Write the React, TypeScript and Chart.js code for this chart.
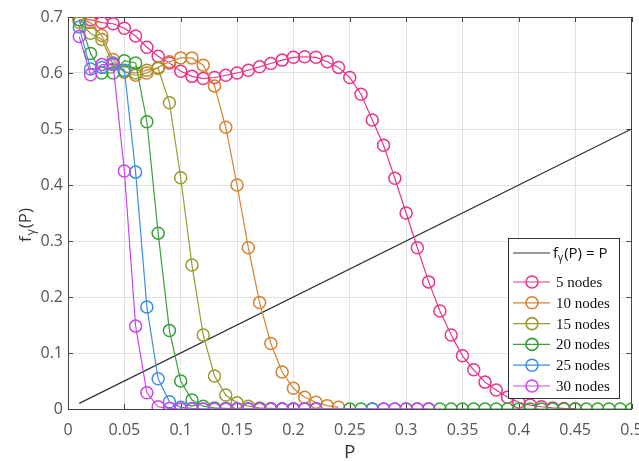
import { useEffect, useRef } from "react";
import { Chart, registerables } from "chart.js";

Chart.register(...registerables);

// ---- data ----
const P = [
  0.01, 0.02, 0.03, 0.04, 0.05, 0.06, 0.07, 0.08, 0.09, 0.1,
  0.11, 0.12, 0.13, 0.14, 0.15, 0.16, 0.17, 0.18, 0.19, 0.2,
  0.21, 0.22, 0.23, 0.24, 0.25, 0.26, 0.27, 0.28, 0.29, 0.3,
  0.31, 0.32, 0.33, 0.34, 0.35, 0.36, 0.37, 0.38, 0.39, 0.4,
  0.41, 0.42, 0.43, 0.44, 0.45, 0.46, 0.47, 0.48, 0.49, 0.5,
];

const identityP = [0.01, 0.5];
const identityF = [0.01, 0.5];

const nodes5 = [
  0.695, 0.695, 0.69, 0.688, 0.68, 0.666, 0.646, 0.63, 0.618, 0.603,
  0.594, 0.59, 0.592, 0.596, 0.6, 0.605, 0.611, 0.617, 0.623, 0.628,
  0.629, 0.628, 0.62, 0.61, 0.592, 0.562, 0.516, 0.471, 0.412, 0.35,
  0.288, 0.227, 0.175, 0.132, 0.095, 0.07, 0.048, 0.034, 0.021, 0.012,
  0.007, 0.004, 0.002, 0.001, 0.0005,
];
const nodes10 = [
  0.695, 0.69, 0.667, 0.624, 0.602, 0.596, 0.6, 0.61, 0.62, 0.627,
  0.627, 0.614, 0.577, 0.503, 0.4, 0.288, 0.19, 0.117, 0.066, 0.037,
  0.021, 0.012, 0.006, 0.003,
];
const nodes15 = [
  0.69, 0.671, 0.66, 0.615, 0.602, 0.6, 0.605, 0.608, 0.547, 0.413,
  0.257, 0.132, 0.059, 0.025, 0.011, 0.005, 0.002, 0.001, 0, 0,
];
const nodes20 = [
  0.695, 0.635, 0.6, 0.6, 0.622, 0.618, 0.513, 0.314, 0.14, 0.05,
  0.016, 0.005, 0.002, 0.001, 0, 0, 0, 0, 0, 0,
  0, 0, null, null, 0, 0, 0, 0, 0, 0,
  0, 0, 0, 0, 0, 0, 0, 0, 0, 0,
  0, 0, 0, 0, 0, 0, 0, 0, 0, 0,
];
const nodes25 = [
  0.682, 0.607, 0.61, 0.618, 0.605, 0.423, 0.182, 0.054, 0.013, 0.003,
  0.001, 0, 0, 0, 0, 0, 0, 0, 0, 0,
  0, 0, null, null, null, null, 0,
];
const nodes30 = [
  0.665, 0.597, 0.615, 0.615, 0.425, 0.148, 0.029, 0.004, 0.001, 0,
  0, 0, 0, 0, 0, 0, 0, 0, 0, 0,
  0, 0, null, null, null, null, null, 0, 0, 0,
  0, 0,
];

const seriesLabels = ["5 nodes", "10 nodes", "15 nodes", "20 nodes", "25 nodes", "30 nodes"];
const seriesValues = [nodes5, nodes10, nodes15, nodes20, nodes25, nodes30];
const seriesColors = ["#E8358C", "#D4832F", "#9C9A2E", "#38A238", "#3D8FE0", "#CC44EE"];

const xMin = 0, xMax = 0.5, xStep = 0.05;
const yMin = 0, yMax = 0.7, yStep = 0.1;

const SANS = "'Open Sans', 'Noto Sans', sans-serif";
const SERIF = "'Liberation Serif', 'DejaVu Serif', serif";

function fmt(v: number) {
  return parseFloat(v.toFixed(2)).toString();
}

const framePlugin = {
  id: "frame",
  beforeDatasetsDraw(chart: any) {
    const { ctx, chartArea: a, scales } = chart;
    ctx.save();
    ctx.strokeStyle = "#444";
    ctx.lineWidth = 1;
    ctx.beginPath();
    const tl = 5;
    scales.x.ticks.forEach((t: any) => {
      const px = Math.round(scales.x.getPixelForValue(t.value)) + 0.5;
      ctx.moveTo(px, a.bottom);
      ctx.lineTo(px, a.bottom - tl);
      ctx.moveTo(px, a.top);
      ctx.lineTo(px, a.top + tl);
    });
    scales.y.ticks.forEach((t: any) => {
      const py = Math.round(scales.y.getPixelForValue(t.value)) + 0.5;
      ctx.moveTo(a.left, py);
      ctx.lineTo(a.left + tl, py);
      ctx.moveTo(a.right, py);
      ctx.lineTo(a.right - tl, py);
    });
    ctx.stroke();
    ctx.strokeRect(Math.round(a.left) + 0.5, Math.round(a.top) + 0.5, Math.round(a.right - a.left) - 1, Math.round(a.bottom - a.top));
    ctx.restore();
  },
  afterDraw(chart: any) {
    const { ctx, chartArea: a } = chart;
    ctx.save();
    // x-axis title
    ctx.fillStyle = "#333";
    ctx.font = `19px ${SANS}`;
    ctx.textAlign = "center";
    ctx.textBaseline = "alphabetic";
    ctx.fillText("P", (a.left + a.right) / 2, 458);

    // y-axis title with subscript
    ctx.translate(31, 225);
    ctx.rotate(-Math.PI / 2);
    ctx.textAlign = "left";
    ctx.font = `17px ${SANS}`;
    const wf = ctx.measureText("f").width;
    const wp = ctx.measureText("(P)").width;
    ctx.font = `12px ${SANS}`;
    const wg = ctx.measureText("γ").width;
    let x = -(wf + wg + wp + 2) / 2;
    ctx.font = `17px ${SANS}`;
    ctx.fillText("f", x, 0);
    x += wf + 1;
    ctx.font = `12px ${SANS}`;
    ctx.fillText("γ", x, 4);
    x += wg + 1;
    ctx.font = `17px ${SANS}`;
    ctx.fillText("(P)", x, 0);
    ctx.restore();

    // legend
    ctx.save();
    const bx = 508, by = 238, bw = 111, bh = 160;
    ctx.fillStyle = "#fff";
    ctx.fillRect(bx, by, bw, bh);
    ctx.strokeStyle = "#333";
    ctx.lineWidth = 1;
    ctx.strokeRect(bx + 0.5, by + 0.5, bw, bh);
    const lx0 = 513, lx1 = 550, mx = 532;
    // identity entry
    let ry = 253;
    ctx.strokeStyle = "#333";
    ctx.lineWidth = 1.2;
    ctx.beginPath();
    ctx.moveTo(lx0, ry);
    ctx.lineTo(lx1, ry);
    ctx.stroke();
    ctx.fillStyle = "#111";
    ctx.textBaseline = "alphabetic";
    ctx.textAlign = "left";
    let tx = 553;
    ctx.font = `15px ${SANS}`;
    ctx.fillText("f", tx, ry + 5);
    tx += ctx.measureText("f").width;
    ctx.font = `10px ${SANS}`;
    ctx.fillText("γ", tx, ry + 8);
    tx += ctx.measureText("γ").width + 1;
    ctx.font = `15px ${SANS}`;
    ctx.fillText("(P) = P", tx, ry + 5);

    seriesLabels.forEach((lab, i) => {
      const yy = 282 + i * 20.8;
      ctx.strokeStyle = seriesColors[i];
      ctx.lineWidth = 1.2;
      ctx.beginPath();
      ctx.moveTo(lx0, yy);
      ctx.lineTo(lx1, yy);
      ctx.stroke();
      ctx.lineWidth = 1.6;
      ctx.beginPath();
      ctx.arc(mx, yy, 6, 0, Math.PI * 2);
      ctx.stroke();
      ctx.fillStyle = "#111";
      ctx.font = `15px ${SERIF}`;
      ctx.textBaseline = "middle";
      ctx.fillText(lab, 556, yy + 1);
    });
    ctx.restore();
  },
};

export default function App() {
  const ref = useRef<HTMLCanvasElement>(null);
  useEffect(() => {
    const datasets: any[] = [
      {
        label: "identity",
        data: identityP.map((p, i) => ({ x: p, y: identityF[i] })),
        borderColor: "#333",
        borderWidth: 1.2,
        pointRadius: 0,
        order: 10,
      },
    ];
    seriesValues.forEach((vals, s) => {
      datasets.push({
        label: seriesLabels[s],
        data: P.slice(0, vals.length).map((p, i) => ({ x: p, y: vals[i] })),
        borderColor: seriesColors[s],
        borderWidth: 1.2,
        pointRadius: 6,
        pointBorderWidth: 1.5,
        pointBackgroundColor: "rgba(0,0,0,0)",
        pointBorderColor: seriesColors[s],
        pointStyle: "circle",
        spanGaps: true,
        order: 6 - s,
      });
    });
    const chart = new Chart(ref.current!, {
      type: "line",
      data: { datasets },
      options: {
        animation: false,
        responsive: false,
        devicePixelRatio: 1,
        layout: { padding: { left: 0, right: 7, top: 17, bottom: 0 } },
        plugins: { legend: { display: false }, tooltip: { enabled: false } },
        scales: {
          x: {
            type: "linear",
            min: xMin,
            max: xMax,
            ticks: {
              stepSize: xStep,
              autoSkip: false,
              maxRotation: 0,
              padding: 12,
              color: "#555",
              font: { family: SANS, size: 16 },
              callback: (v: any) => fmt(Number(v)),
            },
            grid: { color: "#e2e2e2", drawTicks: false },
            border: { display: false },
            afterFit: (s: any) => {
              s.height = 52;
              s.paddingLeft = 0;
              s.paddingRight = 0;
            },
          },
          y: {
            type: "linear",
            min: yMin,
            max: yMax,
            ticks: {
              stepSize: yStep,
              padding: 5,
              color: "#555",
              font: { family: SANS, size: 16 },
              callback: (v: any) => fmt(Number(v)),
            },
            grid: { color: "#e2e2e2", drawTicks: false },
            border: { display: false },
            afterFit: (s: any) => {
              s.width = 68;
              s.paddingTop = 0;
              s.paddingBottom = 0;
            },
          },
        },
      },
      plugins: [framePlugin],
    });
    return () => chart.destroy();
  }, []);
  return (
    <div style={{ position: "absolute", left: 0, top: 0, width: 639, height: 461, background: "#fff" }}>
      <canvas ref={ref} width={639} height={461} style={{ display: "block" }} />
    </div>
  );
}
